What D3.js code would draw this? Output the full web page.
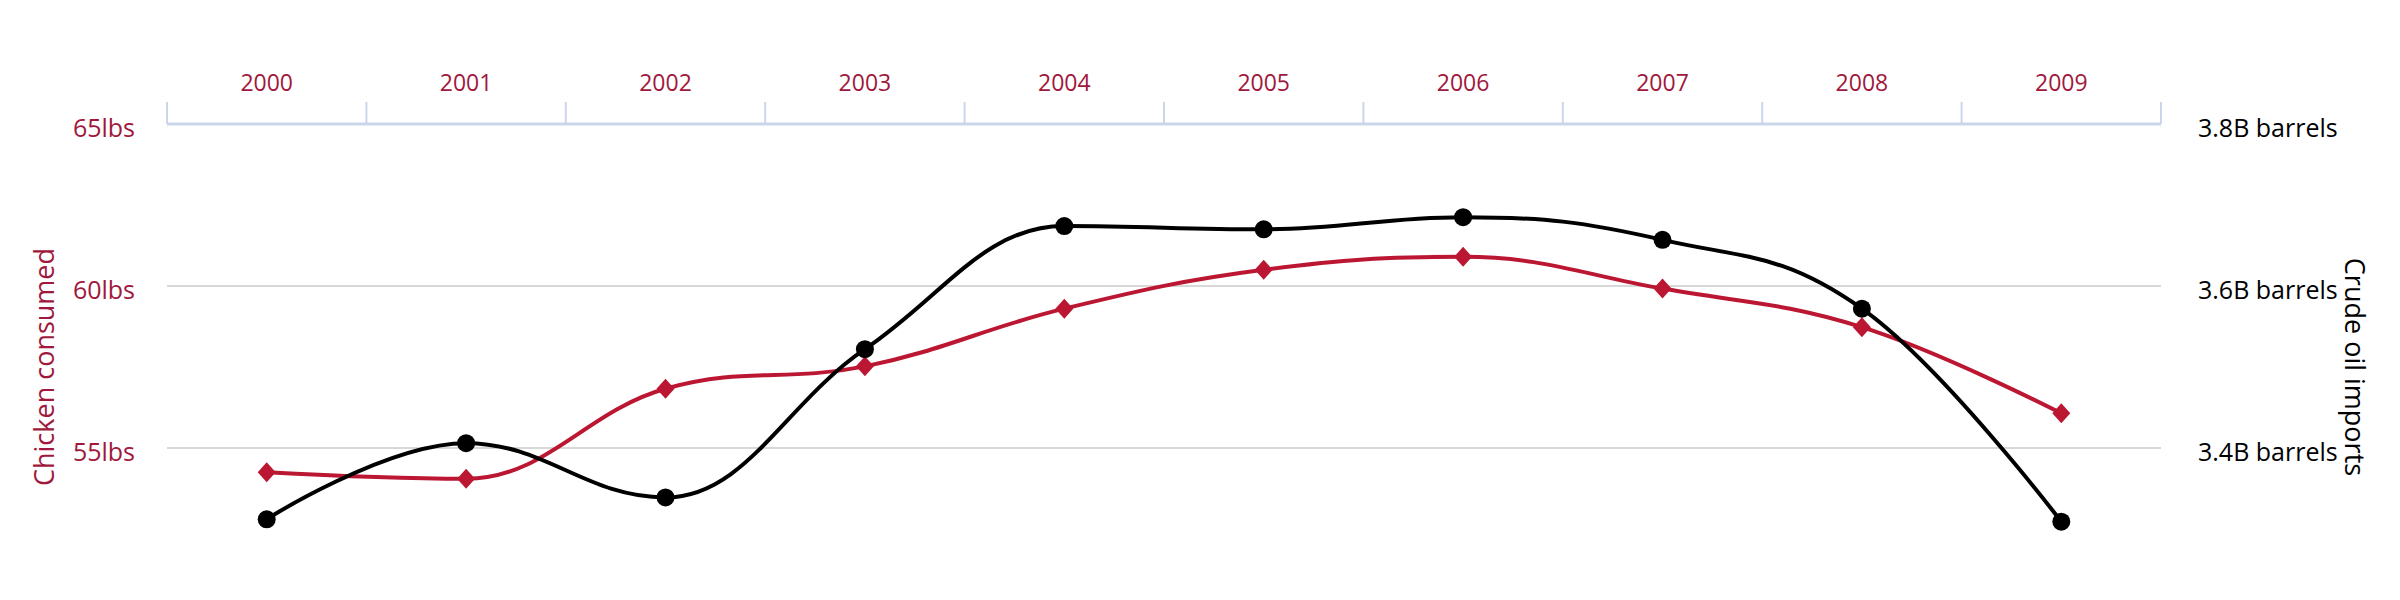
<!DOCTYPE html>
<html>
<head>
<meta charset="utf-8">
<script src="https://cdn.jsdelivr.net/npm/d3@7"></script>
<style>
  html, body { margin: 0; padding: 0; background: #fff; }
  svg { display: block; font-family: 'Open Sans', sans-serif; }
</style>
</head>
<body>
<svg id="chart" width="2400" height="600"></svg>
<script>
// ── DATA ──────────────────────────────────────────────────────────
const years   = ['2000','2001','2002','2003','2004','2005','2006','2007','2008','2009'];
const chicken = [54.25, 54.05, 56.83, 57.52, 59.3, 60.5, 60.9, 59.92, 58.73, 56.07];   // lbs per capita
const crude   = [3.312, 3.406, 3.339, 3.522, 3.674, 3.670, 3.685, 3.657, 3.572, 3.309]; // billion barrels
const leftTicks  = [50, 55, 60, 65];
const rightTicks = [3.2, 3.4, 3.6, 3.8];

const RED = '#bb1632', RED_TEXT = '#a0183c', AXIS = '#ccd6eb', GRID = '#d8d8d8';

// ── LAYOUT ────────────────────────────────────────────────────────
const plotL = 167, plotR = 2161, plotT = 124, plotB = 610;
const svg = d3.select('#chart');

const x  = d3.scaleBand().domain(years).range([plotL, plotR]);
const cx = d => x(d) + x.bandwidth() / 2;
const yL = d3.scaleLinear().domain([50, 65]).range([plotB, plotT]);
const yR = d3.scaleLinear().domain([3.2, 3.8]).range([plotB, plotT]);

// Highcharts-like spline (smoothing 1.5, flattened at local extremes)
function hcSpline(context) {
  let pts;
  return {
    areaStart() {}, areaEnd() {},
    lineStart() { pts = []; },
    point(px, py) { pts.push([px, py]); },
    lineEnd() {
      const s = 1.5, den = s + 1, n = pts.length;
      if (!n) return;
      context.moveTo(pts[0][0], pts[0][1]);
      let prx = pts[0][0], pry = pts[0][1];
      for (let i = 1; i < n; i++) {
        const [px, py] = pts[i];
        let lx = px, ly = py, rx = px, ry = py;
        if (i < n - 1) {
          const [ax, ay] = pts[i - 1], [bx, by] = pts[i + 1];
          lx = (s * px + ax) / den; ly = (s * py + ay) / den;
          rx = (s * px + bx) / den; ry = (s * py + by) / den;
          if (rx !== lx) {
            const corr = ((ry - ly) * (rx - px)) / (rx - lx) + py - ry;
            ly += corr; ry += corr;
          }
          if (ly > ay && ly > py) { ly = Math.max(ay, py); ry = 2 * py - ly; }
          else if (ly < ay && ly < py) { ly = Math.min(ay, py); ry = 2 * py - ly; }
          if (ry > by && ry > py) { ry = Math.max(by, py); ly = 2 * py - ry; }
          else if (ry < by && ry < py) { ry = Math.min(by, py); ly = 2 * py - ry; }
        }
        context.bezierCurveTo(prx, pry, lx, ly, px, py);
        prx = rx; pry = ry;
      }
    }
  };
}

// ── GRID ──────────────────────────────────────────────────────────
svg.append('g')
  .selectAll('line')
  .data(leftTicks.filter(v => v !== 65))
  .join('line')
    .attr('x1', plotL).attr('x2', plotR)
    .attr('y1', d => yL(d)).attr('y2', d => yL(d))
    .attr('stroke', GRID).attr('stroke-width', 2);

// ── X AXIS (top, ticks between categories) ────────────────────────
const xAxis = svg.append('g').attr('transform', `translate(0,${plotT})`);
xAxis.append('line')
  .attr('x1', plotL).attr('x2', plotR)
  .attr('stroke', AXIS).attr('stroke-width', 3);
xAxis.selectAll('line.tick')
  .data(d3.range(years.length + 1))
  .join('line')
    .attr('class', 'tick')
    .attr('x1', i => plotL + i * x.step()).attr('x2', i => plotL + i * x.step())
    .attr('y1', 0).attr('y2', -22)
    .attr('stroke', AXIS).attr('stroke-width', 2);
xAxis.selectAll('text')
  .data(years)
  .join('text')
    .attr('x', cx).attr('y', -33)
    .attr('text-anchor', 'middle')
    .attr('font-size', 23)
    .attr('fill', RED_TEXT)
    .text(d => d);

// ── Y AXES ────────────────────────────────────────────────────────
const gL = svg.append('g')
  .attr('transform', `translate(${plotL},0)`)
  .call(d3.axisLeft(yL).tickValues(leftTicks).tickFormat(d => d + 'lbs').tickSize(0).tickPadding(32));
gL.select('.domain').remove();
gL.selectAll('text').attr('font-size', 25).attr('fill', RED_TEXT)
  .attr('font-family', "'Open Sans', sans-serif").attr('dy', '0.48em');

const gR = svg.append('g')
  .attr('transform', `translate(${plotR},0)`)
  .call(d3.axisRight(yR).tickValues(rightTicks).tickFormat(d => d.toFixed(1) + 'B barrels').tickSize(0).tickPadding(37));
gR.select('.domain').remove();
gR.selectAll('text').attr('font-size', 25).attr('fill', '#000')
  .attr('font-family', "'Open Sans', sans-serif").attr('dy', '0.48em');

const midY = (plotT + plotB) / 2;
svg.append('text')
  .attr('transform', `translate(54,${midY}) rotate(-90)`)
  .attr('text-anchor', 'middle')
  .attr('font-size', 27)
  .attr('fill', RED_TEXT)
  .text('Chicken consumed');

svg.append('text')
  .attr('transform', `translate(2345,${midY}) rotate(90)`)
  .attr('text-anchor', 'middle')
  .attr('font-size', 27)
  .attr('fill', '#000')
  .text('Crude oil imports');

// ── SERIES ────────────────────────────────────────────────────────
const line = d3.line().curve(hcSpline);

// chicken (red, diamonds)
const chickenPts = years.map((yr, i) => [cx(yr), yL(chicken[i])]);
svg.append('path')
  .attr('d', line(chickenPts))
  .attr('fill', 'none').attr('stroke', RED).attr('stroke-width', 4);
svg.append('g')
  .selectAll('path')
  .data(chickenPts)
  .join('path')
    .attr('d', ([px, py]) => `M${px},${py - 10}L${px + 9},${py}L${px},${py + 10}L${px - 9},${py}Z`)
    .attr('fill', RED);

// crude oil (black, circles)
const crudePts = years.map((yr, i) => [cx(yr), yR(crude[i])]);
svg.append('path')
  .attr('d', line(crudePts))
  .attr('fill', 'none').attr('stroke', '#000').attr('stroke-width', 4);
svg.append('g')
  .selectAll('circle')
  .data(crudePts)
  .join('circle')
    .attr('cx', d => d[0]).attr('cy', d => d[1])
    .attr('r', 9)
    .attr('fill', '#000');
</script>
</body>
</html>
